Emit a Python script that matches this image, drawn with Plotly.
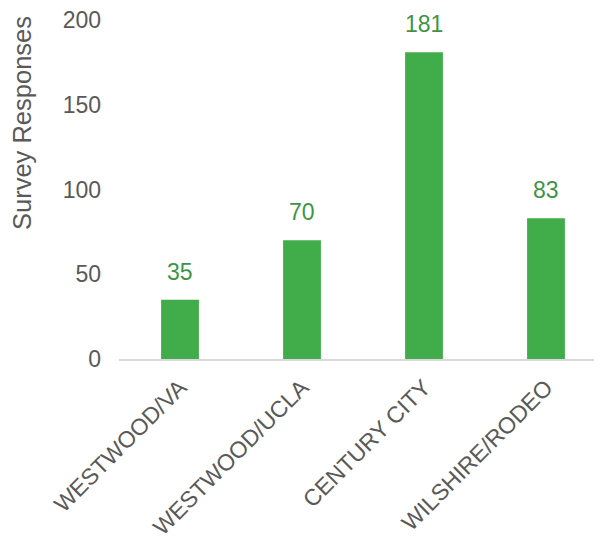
import plotly.graph_objects as go

categories = ["WESTWOOD/VA", "WESTWOOD/UCLA", "CENTURY CITY", "WILSHIRE/RODEO"]
responses = [35, 70, 181, 83]
y_ticks = [0, 50, 100, 150, 200]
y_title = "Survey Responses"

BAR = "#40ad4a"
LABEL = "#3e9446"
GRAY = "#595959"
FONT = "Arial, Liberation Sans, sans-serif"

# page is rendered with an 8px body offset; margins compensate for it
L, T, B = 111, 12, 191
W, H = 602, 542
plot_w = W - L
plot_h = H - T - B

fig = go.Figure()
fig.add_trace(go.Bar(
    x=categories, y=responses, width=0.31,
    marker=dict(color=BAR, line=dict(width=0)),
    cliponaxis=False,
))

for c, v in zip(categories, responses):
    fig.add_annotation(x=c, y=v, text=str(v), showarrow=False,
                       yanchor="bottom", yshift=13,
                       font=dict(family=FONT, size=23, color=LABEL))

fig.add_annotation(xref="paper", yref="paper", x=(14 - L) / plot_w, y=(H - B - 115) / plot_h,
                   text=y_title, textangle=-90, showarrow=False,
                   xanchor="center", yanchor="middle",
                   font=dict(family=FONT, size=25.5, color=GRAY))

fig.update_layout(
    width=W, height=H,
    margin=dict(l=L, r=0, t=T, b=B, autoexpand=False),
    paper_bgcolor="white", plot_bgcolor="white",
    showlegend=False,
    font=dict(family=FONT, color=GRAY),
    xaxis=dict(type="category", range=[-0.5, -0.5 + plot_w / 122], showgrid=False,
               showline=True, linecolor="#d9d9d9", linewidth=2, automargin=False,
               ticks="", tickangle=-45, tickfont=dict(size=23, color=GRAY),
               ticklabelstandoff=4),
    yaxis=dict(range=[0, 200], tickvals=y_ticks, showgrid=False, automargin=False,
               showline=False, zeroline=False, ticks="", ticklabeloverflow="allow",
               tickfont=dict(size=23, color=GRAY), ticklabelstandoff=17),
)

fig.write_html("out.html")
